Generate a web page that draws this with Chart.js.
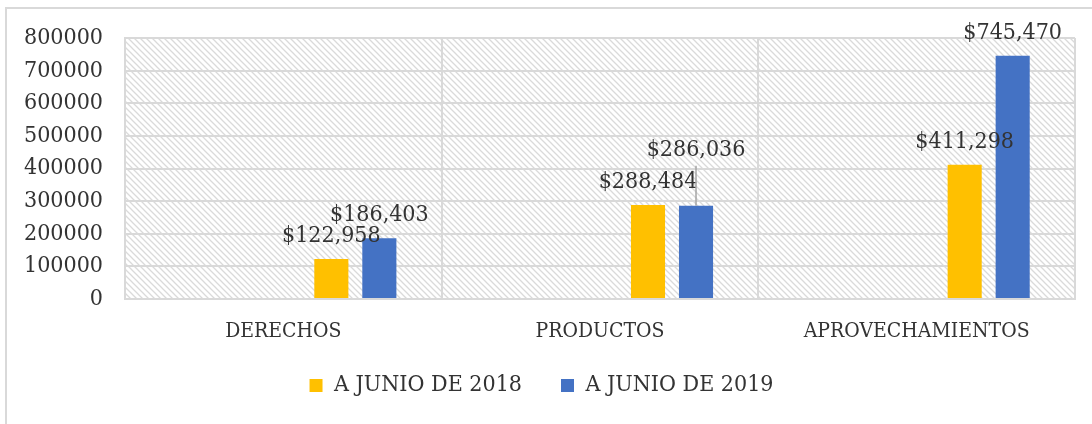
<!DOCTYPE html>
<html lang="es">
<head>
    <meta charset="UTF-8">
    <title>Ingresos a junio 2018 - 2019</title>
    <script src="https://cdn.jsdelivr.net/npm/chart.js"></script>
    <style>
        body { margin: 0; background: #fff; }
        #frame { position: absolute; left: 5px; top: 7px; width: 1100px; height: 430px;
                 border-left: 2px solid #d9d9d9; border-top: 2px solid #d9d9d9; }
        #wrap { position: absolute; left: 0; top: 0; width: 1092px; height: 424px; }
    </style>
</head>
<body>
    <div id="frame"></div>
    <div id="wrap"><canvas id="chart" width="1092" height="424"></canvas></div>

    <script>
        const categories = ['DERECHOS', 'PRODUCTOS', 'APROVECHAMIENTOS'];
        const seriesNames = ['A JUNIO DE 2018', 'A JUNIO DE 2019'];
        const junio2018 = [122958, 288484, 411298];
        const junio2019 = [186403, 286036, 745470];
        const yMax = 800000;
        const yStep = 100000;

        const serif = "'DejaVu Serif Condensed', 'DejaVu Serif', serif";
        const textColor = '#333333';
        const gridColor = '#d9d9d9';

        // diagonal hatch used behind the plot area
        function makeHatch(ctx) {
            const tile = document.createElement('canvas');
            tile.width = 6; tile.height = 6;
            const g = tile.getContext('2d');
            g.strokeStyle = '#dadada';
            g.lineWidth = 1.3;
            g.beginPath();
            g.moveTo(-1, -1); g.lineTo(7, 7);
            g.moveTo(-1, 5); g.lineTo(1, 7);
            g.moveTo(5, -1); g.lineTo(7, 1);
            g.stroke();
            return ctx.createPattern(tile, 'repeat');
        }

        const hatchBackground = {
            id: 'hatchBackground',
            afterLayout(chart) {
                // pull the legend row up closer to the category labels
                chart.legend.top -= 9;
                chart.legend.bottom -= 9;
            },
            beforeDraw(chart) {
                const {ctx, chartArea: a} = chart;
                ctx.save();
                ctx.fillStyle = makeHatch(ctx);
                ctx.fillRect(a.left, a.top, a.right - a.left, a.bottom - a.top);
                ctx.restore();
            }
        };

        // value labels over the bars; the 2019 PRODUCTOS label is lifted with a leader line
        const lifted = { '4-1': 33 };
        const valueLabels = {
            id: 'valueLabels',
            afterDatasetsDraw(chart) {
                const {ctx} = chart;
                ctx.save();
                ctx.font = '23px ' + serif;
                ctx.fillStyle = textColor;
                ctx.textAlign = 'center';
                ctx.textBaseline = 'alphabetic';
                [3, 4].forEach(di => {
                    const meta = chart.getDatasetMeta(di);
                    meta.data.forEach((bar, i) => {
                        const v = chart.data.datasets[di].data[i];
                        const lift = lifted[di + '-' + i] || 0;
                        const y = bar.y - 17 - lift;
                        if (lift) {
                            ctx.strokeStyle = '#a6a6a6';
                            ctx.lineWidth = 1.5;
                            ctx.beginPath();
                            ctx.moveTo(bar.x, y + 10);
                            ctx.lineTo(bar.x, bar.y);
                            ctx.stroke();
                        }
                        ctx.fillText('$' + v.toLocaleString('en-US'), bar.x, y);
                    });
                });
                ctx.restore();
            }
        };

        const empty = categories.map(() => null);

        new Chart(document.getElementById('chart'), {
            type: 'bar',
            data: {
                labels: categories,
                datasets: [
                    { label: '', data: empty },
                    { label: '', data: empty },
                    { label: '', data: empty },
                    { label: seriesNames[0], data: junio2018, backgroundColor: '#ffc000' },
                    { label: seriesNames[1], data: junio2019, backgroundColor: '#4472c4' }
                ]
            },
            options: {
                responsive: false,
                animation: false,
                devicePixelRatio: 1,
                layout: { padding: { top: 38, right: 17, bottom: 8, left: 8 } },
                datasets: { bar: { categoryPercentage: 0.758, barPercentage: 0.71 } },
                scales: {
                    x: {
                        grid: { color: gridColor, lineWidth: 2, drawTicks: false, offset: true },
                        border: { color: gridColor, width: 2 },
                        ticks: { color: textColor, font: { family: serif, size: 21 }, padding: 20 },
                        afterFit(scale) { scale.height = 45; }
                    },
                    y: {
                        min: 0,
                        max: yMax,
                        grid: { color: gridColor, lineWidth: 2, drawTicks: false },
                        border: { color: gridColor, width: 2 },
                        ticks: {
                            stepSize: yStep,
                            color: textColor,
                            font: { family: serif, size: 23 },
                            padding: 22,
                            callback: v => String(v)
                        },
                        afterFit(scale) { scale.width = 117; }
                    }
                },
                plugins: {
                    tooltip: { enabled: false },
                    legend: {
                        position: 'bottom',
                        labels: {
                            color: textColor,
                            font: { family: serif, size: 23 },
                            boxWidth: 13,
                            boxHeight: 13,
                            padding: 39,
                            filter: item => item.datasetIndex >= 3
                        }
                    }
                }
            },
            plugins: [hatchBackground, valueLabels]
        });
    </script>
</body>
</html>
